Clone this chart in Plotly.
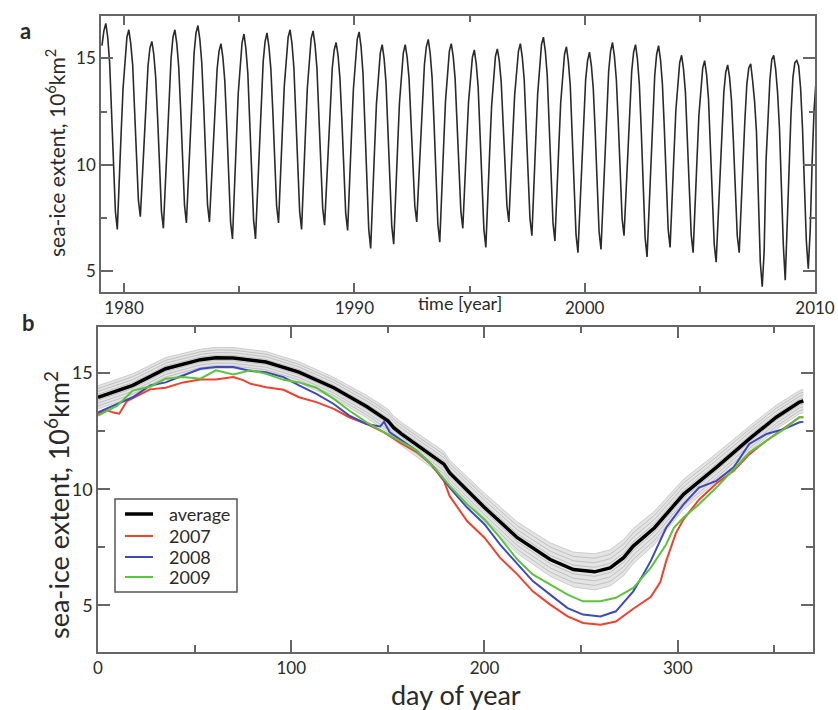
import plotly.graph_objects as go

# ---------------- Panel a: monthly sea-ice extent (10^6 km^2), 1979-2009 -------------
years = list(range(1979, 2010))
monthly_extent = [
    [15.6, 16.3, 16.65, 16.0, 14.8, 12.7, 10.2, 7.8, 6.95, 8.9, 11.5, 13.6],      # 1979
    [15.0, 16.0, 16.35, 15.7, 14.7, 12.7, 10.5, 8.3, 7.55, 9.3, 11.5, 13.4],       # 1980
    [14.65, 15.5, 15.8, 15.2, 14.1, 12.2, 9.9, 7.8, 7.0, 9.0, 11.5, 13.6],         # 1981
    [15.0, 16.0, 16.35, 15.7, 14.6, 12.6, 10.25, 8.1, 7.25, 9.2, 11.7, 13.85],     # 1982
    [15.25, 16.2, 16.55, 15.9, 14.8, 12.8, 10.35, 8.1, 7.3, 9.1, 11.3, 13.3],      # 1983
    [14.5, 15.35, 15.7, 15.05, 13.95, 11.9, 9.55, 7.3, 6.5, 8.5, 11.1, 13.35],     # 1984
    [14.8, 15.75, 16.15, 15.45, 14.3, 12.2, 9.7, 7.4, 6.5, 8.55, 11.15, 13.4],     # 1985
    [14.85, 15.8, 16.2, 15.55, 14.5, 12.55, 10.2, 8.05, 7.25, 9.15, 11.6, 13.7],   # 1986
    [15.1, 16.0, 16.35, 15.7, 14.55, 12.5, 10.05, 7.8, 6.95, 8.9, 11.45, 13.6],    # 1987
    [15.0, 15.95, 16.3, 15.65, 14.55, 12.55, 10.15, 7.95, 7.15, 8.95, 11.3, 13.25],# 1988
    [14.55, 15.4, 15.75, 15.15, 14.05, 12.1, 9.8, 7.7, 6.9, 8.85, 11.4, 13.55],    # 1989
    [14.95, 15.9, 16.25, 15.55, 14.3, 12.05, 9.4, 6.95, 6.05, 8.05, 10.65, 12.85], # 1990
    [14.3, 15.25, 15.65, 15.0, 13.85, 11.8, 9.35, 7.1, 6.25, 8.2, 10.75, 12.9],    # 1991
    [14.35, 15.25, 15.65, 15.05, 14.05, 12.25, 10.05, 8.05, 7.3, 9.1, 11.45, 13.4],# 1992
    [14.7, 15.55, 15.9, 15.25, 14.1, 12.0, 9.5, 7.2, 6.35, 8.3, 10.85, 13.0],      # 1993
    [14.4, 15.35, 15.7, 15.1, 14.05, 12.15, 9.85, 7.8, 7.0, 8.75, 11.05, 12.95],   # 1994
    [14.2, 15.05, 15.4, 14.75, 13.65, 11.6, 9.15, 6.95, 6.1, 8.05, 10.6, 12.75],   # 1995
    [14.15, 15.1, 15.45, 14.9, 13.9, 12.1, 10.0, 8.05, 7.3, 9.05, 11.35, 13.25],   # 1996
    [14.5, 15.35, 15.7, 15.05, 14.0, 12.0, 9.65, 7.45, 6.65, 8.6, 11.15, 13.3],    # 1997
    [14.7, 15.65, 16.0, 15.35, 14.2, 12.05, 9.55, 7.25, 6.4, 8.3, 10.8, 12.9],     # 1998
    [14.25, 15.2, 15.55, 14.85, 13.7, 11.55, 9.05, 6.7, 5.85, 7.85, 10.4, 12.55],  # 1999
    [14.0, 14.9, 15.3, 14.65, 13.55, 11.5, 9.05, 6.85, 6.0, 8.05, 10.7, 12.9],     # 2000
    [14.4, 15.35, 15.75, 15.1, 14.0, 12.0, 9.65, 7.45, 6.65, 8.55, 10.95, 13.05],  # 2001
    [14.4, 15.3, 15.65, 14.95, 13.75, 11.55, 8.95, 6.55, 5.65, 7.75, 10.45, 12.7], # 2002
    [14.2, 15.2, 15.6, 14.95, 13.8, 11.7, 9.25, 6.95, 6.1, 8.0, 10.45, 12.55],     # 2003
    [13.9, 14.8, 15.15, 14.5, 13.4, 11.35, 8.9, 6.7, 5.85, 7.75, 10.2, 12.3],      # 2004
    [13.65, 14.55, 14.9, 14.25, 13.1, 11.0, 8.55, 6.25, 5.4, 7.35, 9.85, 12.0],    # 2005
    [13.4, 14.35, 14.7, 14.1, 13.0, 11.05, 8.75, 6.65, 5.85, 7.7, 10.1, 12.15],    # 2006
    [13.8, 14.55, 14.75, 13.95, 13.0, 11.55, 8.1, 5.4, 4.25, 5.9, 10.2, 12.4],     # 2007
    [14.0, 14.95, 15.15, 14.5, 13.4, 11.7, 8.8, 6.2, 4.55, 7.1, 10.4, 12.4],       # 2008
    [14.1, 14.8, 14.9, 14.65, 13.6, 11.7, 9.0, 6.4, 5.1, 6.9, 10.1, 12.55],        # 2009
]
jan_2010 = 13.9
year_ticks = [1980, 1990, 2000, 2010]

# ---------------- Panel b: day-of-year curves ---------------------------------------
avg_day = [0, 18, 35, 53, 61, 70, 87, 104, 122, 139, 150, 153, 157, 167, 179, 182, 200,
           217, 234, 246, 257, 265, 272, 277, 288, 303, 320, 338, 351, 363, 365]
avg_val = [13.96, 14.47, 15.19, 15.58, 15.66, 15.65, 15.48, 15.04, 14.37, 13.56, 12.95,
           12.65, 12.38, 11.8, 11.08, 10.7, 9.21, 7.91, 6.97, 6.54, 6.44, 6.61, 7.05, 7.55,
           8.34, 9.78, 10.94, 12.23, 13.1, 13.75, 13.8]
avg_spread = [0.5, 0.5, 0.48, 0.45, 0.45, 0.45, 0.45, 0.45, 0.45, 0.48, 0.5, 0.5, 0.5,
              0.52, 0.55, 0.55, 0.62, 0.68, 0.72, 0.75, 0.78, 0.78, 0.78, 0.76, 0.72,
              0.65, 0.6, 0.55, 0.52, 0.5, 0.5]

d07 = [0, 5, 8, 11, 15, 22, 27, 35, 44, 53, 61, 70, 75, 79, 87, 96, 104, 113, 122, 130,
       139, 148, 156, 165, 172, 179, 182, 191, 200, 208, 217, 225, 234, 243, 251, 260,
       268, 277, 286, 291, 294, 299, 303, 311, 320, 329, 337, 346, 355, 363, 365]
v07 = [13.24, 13.4, 13.3, 13.25, 13.8, 14.1, 14.3, 14.37, 14.6, 14.73, 14.73, 14.83,
       14.7, 14.54, 14.39, 14.28, 13.96, 13.75, 13.46, 13.1, 12.81, 12.45, 12.02, 11.6,
       11.1, 10.36, 9.7, 8.63, 7.91, 7.05, 6.33, 5.6, 5.03, 4.52, 4.24, 4.16, 4.3, 4.85,
       5.35, 6.0, 6.9, 8.1, 8.7, 9.55, 10.25, 10.8, 11.5, 12.1, 12.65, 13.1, 13.1]

d08 = [0, 18, 27, 35, 44, 53, 61, 70, 79, 87, 96, 104, 113, 122, 130, 139, 146, 148,
       151, 165, 174, 182, 191, 200, 208, 217, 225, 234, 243, 251, 260, 268, 277, 282,
       286, 294, 303, 311, 320, 329, 337, 346, 355, 363, 365]
v08 = [13.31, 13.96, 14.47, 14.6, 14.9, 15.19, 15.26, 15.26, 15.09, 15.04, 14.83, 14.47,
       14.11, 13.67, 13.17, 12.81, 12.7, 12.9, 12.45, 11.66, 10.94, 10.07, 9.21, 8.49,
       7.62, 6.76, 6.04, 5.46, 4.88, 4.6, 4.52, 4.74, 5.6, 6.3, 6.9, 8.34, 9.35, 10.07,
       10.36, 10.94, 11.95, 12.38, 12.59, 12.88, 12.9]

d09 = [0, 10, 18, 27, 35, 44, 53, 61, 70, 79, 87, 96, 104, 113, 122, 130, 139, 148, 165,
       174, 182, 191, 200, 208, 217, 225, 234, 243, 251, 260, 268, 277, 286, 294, 298,
       303, 311, 320, 329, 337, 346, 355, 363, 365]
v09 = [13.17, 13.6, 14.25, 14.42, 14.76, 14.83, 14.76, 15.12, 14.94, 15.12, 14.97, 14.71,
       14.6, 14.37, 13.89, 13.39, 12.88, 12.45, 11.66, 10.94, 10.14, 9.35, 8.7, 7.91,
       6.97, 6.33, 5.9, 5.46, 5.17, 5.17, 5.32, 5.75, 6.61, 7.62, 8.34, 8.78, 9.35,
       10.07, 10.86, 11.58, 12.09, 12.59, 13.1, 13.1]

legend_labels = ["average", "2007", "2008", "2009"]
legend_colors = ["#000000", "#f2402e", "#4048c0", "#5cc43c"]
legend_widths = [3.5, 2, 2, 2]

# ---------------- Build figure -------------------------------------------------------
FONT = "Lato, 'Liberation Sans', Arial, sans-serif"
W, H = 838, 710


def px(x):
    return x / W


def py(y):
    return 1 - y / H


fig = go.Figure()

# panel a series
t_a, v_a = [], []
for y, row in zip(years, monthly_extent):
    for m, v in enumerate(row):
        t_a.append(y + (m + 0.5) / 12.0)
        v_a.append(v)
t_a.append(2010 + 0.5 / 12.0)
v_a.append(jan_2010)
fig.add_trace(go.Scatter(x=t_a, y=v_a, mode="lines", xaxis="x", yaxis="y",
                         line=dict(color="#2a2a2a", width=1.6), showlegend=False,
                         hoverinfo="skip"))

# panel b band
upper = [a + s for a, s in zip(avg_val, avg_spread)]
lower = [a - s for a, s in zip(avg_val, avg_spread)]
fig.add_trace(go.Scatter(x=avg_day, y=upper, mode="lines", xaxis="x2", yaxis="y2",
                         line=dict(color="#c4c4c4", width=0.8), showlegend=False))
fig.add_trace(go.Scatter(x=avg_day, y=lower, mode="lines", xaxis="x2", yaxis="y2",
                         fill="tonexty", fillcolor="#e4e4e4",
                         line=dict(color="#c4c4c4", width=0.8), showlegend=False))
for k in [-0.75, -0.5, -0.25, 0.25, 0.5, 0.75]:
    fig.add_trace(go.Scatter(x=avg_day, y=[a + k * s for a, s in zip(avg_val, avg_spread)],
                             mode="lines", xaxis="x2", yaxis="y2",
                             line=dict(color="#b8b8b8", width=0.8), showlegend=False))

for i, (dd, vv) in enumerate([(d07, v07), (d08, v08), (d09, v09)]):
    fig.add_trace(go.Scatter(x=dd, y=vv, mode="lines", xaxis="x2", yaxis="y2",
                             name=legend_labels[i + 1], showlegend=False,
                             line=dict(color=legend_colors[i + 1], width=2)))

fig.add_trace(go.Scatter(x=avg_day, y=avg_val, mode="lines", xaxis="x2", yaxis="y2",
                         name="average", showlegend=False,
                         line=dict(color="#000000", width=3.5)))

axis_common = dict(showgrid=False, zeroline=False, showline=True, linecolor="#666",
                   linewidth=1.5, mirror="allticks", ticks="inside", tickcolor="#666",
                   tickwidth=1.5, automargin=False)

# custom legend (box, line samples, labels)
shapes = [dict(type="rect", xref="paper", yref="paper", x0=px(115), x1=px(237),
               y0=py(592), y1=py(499), line=dict(color="#555", width=1.5),
               fillcolor="white", layer="above")]
annotations = []
leg_y = [514, 536, 557, 577]
for lab, col, lw, yy in zip(legend_labels, legend_colors, legend_widths, leg_y):
    shapes.append(dict(type="line", xref="paper", yref="paper", x0=px(125), x1=px(153),
                       y0=py(yy), y1=py(yy), line=dict(color=col, width=lw),
                       layer="above"))
    annotations.append(dict(text=lab, x=px(167), y=py(yy), xref="paper", yref="paper",
                            xanchor="left", yanchor="middle", showarrow=False,
                            font=dict(size=18, color="#2a2a2a")))

annotations += [
    dict(text="<b>a</b>", x=px(18), y=py(15), xref="paper", yref="paper",
         showarrow=False, font=dict(size=22, color="#2a2a2a")),
    dict(text="<b>b</b>", x=px(20), y=py(322), xref="paper", yref="paper",
         showarrow=False, font=dict(size=22, color="#2a2a2a")),
    dict(text="time [year]", x=px(460), y=py(303), xref="paper", yref="paper",
         showarrow=False, font=dict(size=18)),
    dict(text="day of year", x=px(456), y=py(712), xref="paper", yref="paper",
         xanchor="center", yanchor="bottom", borderpad=0,
         showarrow=False, font=dict(size=27)),
    dict(text="sea-ice extent, 10<sup>6</sup>km<sup>2</sup>", textangle=-90,
         x=px(55), y=py(153), xref="paper", yref="paper",
         xanchor="center", yanchor="middle",
         showarrow=False, font=dict(size=21)),
    dict(text="sea-ice extent, 10<sup>6</sup>km<sup>2</sup>", textangle=-90,
         x=px(57), y=py(505), xref="paper", yref="paper",
         xanchor="center", yanchor="middle",
         showarrow=False, font=dict(size=27)),
]

fig.update_layout(
    template="none",
    width=W, height=H, margin=dict(l=0, r=0, t=0, b=0, autoexpand=False),
    paper_bgcolor="white", plot_bgcolor="white",
    font=dict(family=FONT, color="#2a2a2a"),
    showlegend=False,
    xaxis=dict(domain=[px(101), px(815)], range=[1979, 2010], anchor="y",
               tickvals=year_ticks, ticklen=9, tickfont=dict(size=17),
               minor=dict(dtick=5, tick0=1980, ticks="inside", ticklen=6,
                          tickcolor="#666", tickwidth=1.5),
               **axis_common),
    yaxis=dict(domain=[py(292), py(16)], range=[4, 17], anchor="x",
               tick0=0, dtick=5, ticklen=12, tickfont=dict(size=17),
               minor=dict(dtick=2.5, tick0=0, ticks="inside", ticklen=6,
                          tickcolor="#666", tickwidth=1.5),
               **axis_common),
    xaxis2=dict(domain=[px(98), px(813)], range=[0, 370], anchor="y2",
                tick0=0, dtick=100, ticklen=12, tickfont=dict(size=17),
                minor=dict(dtick=50, tick0=0, ticks="inside", ticklen=7,
                           tickcolor="#666", tickwidth=1.5),
                **axis_common),
    yaxis2=dict(domain=[py(651.7), py(326.7)], range=[3, 17], anchor="x2",
                tick0=0, dtick=5, ticklen=12, tickfont=dict(size=18),
                minor=dict(dtick=2.5, tick0=0, ticks="inside", ticklen=7,
                           tickcolor="#666", tickwidth=1.5),
                **axis_common),
    shapes=shapes,
    annotations=annotations,
)

fig.write_html("out.html", config={"displayModeBar": False},
               post_script="document.body.style.margin='0';document.body.style.overflow='hidden';")
